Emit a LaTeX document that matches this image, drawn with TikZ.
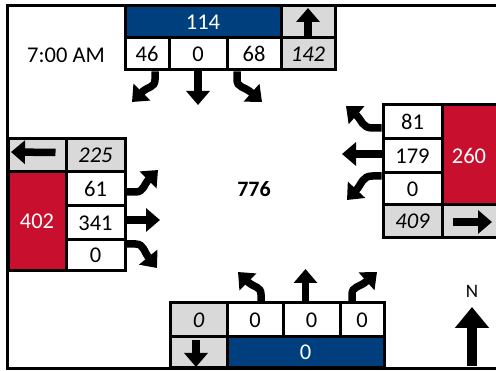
\documentclass[tikz,border=0pt]{standalone}
\usepackage{fontspec}
\setmainfont{Carlito}
\usetikzlibrary{arrows.meta}
\definecolor{nblue}{RGB}{0,63,125}
\definecolor{sred}{RGB}{200,16,46}
\definecolor{lgray}{RGB}{217,217,217}
\begin{document}
\begin{tikzpicture}[x=1pt,y=-1pt,
  cell/.style={draw=black, line width=3pt, inner sep=0pt, fill=white,
    font=\fontsize{22.5}{22.5}\selectfont},
  bluecell/.style={cell, fill=nblue, text=white},
  redcell/.style={cell, fill=sred, text=white},
  graycell/.style={cell, fill=lgray, font=\fontsize{22.5}{22.5}\selectfont\itshape},
  fat/.style={line width=7.5pt, -{Triangle[length=14pt,width=23pt]}},
  compass/.style={line width=9.5pt, -{Triangle[length=21pt,width=33pt]}},
  lbl/.style={inner sep=0pt, font=\fontsize{22.5}{22.5}\selectfont}]
\useasboundingbox (0,0) rectangle (496,371);
\clip (0,0) rectangle (496,371);
\fill[white] (0,0) rectangle (496,371);
% frame
\draw[line width=3.5pt] (7.5,5.5) rectangle (520,368.5);
% north block
\node[bluecell, minimum width=156pt, minimum height=32pt] (n114) at (203,22) {114};
\node[graycell, minimum width=54pt, minimum height=32pt] (nup) at (308,22) {};
\node[cell, minimum width=44pt, minimum height=32pt] (n46) at (147,54) {46};
\node[cell, minimum width=58pt, minimum height=32pt] (n0) at (198,54) {0};
\node[cell, minimum width=54pt, minimum height=32pt] (n68) at (254,54) {68};
\node[graycell, minimum width=54pt, minimum height=32pt] (n142) at (308,54) {142};
\node[lbl] (time) at (66,55) {7:00 AM};
% west block
\node[graycell, minimum width=58pt, minimum height=33pt] (wleft) at (37,155.5) {};
\node[graycell, minimum width=59pt, minimum height=33pt] (w225) at (95.5,155.5) {225};
\node[redcell, minimum width=58pt, minimum height=99pt] (w402) at (37,221.5) {402};
\node[cell, minimum width=59pt, minimum height=34pt] (w61) at (95.5,189) {61};
\node[cell, minimum width=59pt, minimum height=34pt] (w341) at (95.5,223) {341};
\node[cell, minimum width=59pt, minimum height=31pt] (w0) at (95.5,255.5) {0};
% east block
\node[cell, minimum width=59pt, minimum height=34pt] (e81) at (412.5,122) {81};
\node[cell, minimum width=59pt, minimum height=34pt] (e179) at (412.5,156) {179};
\node[cell, minimum width=59pt, minimum height=32pt] (e0) at (412.5,189) {0};
\node[redcell, minimum width=60pt, minimum height=100pt] (e260) at (472,155) {};
\node[lbl, text=white] (e260t) at (469,156) {260};
\node[graycell, minimum width=59pt, minimum height=33pt] (e409) at (412.5,221.5) {409};
\node[graycell, minimum width=60pt, minimum height=33pt] (eright) at (472,221.5) {};
% south block
\node[graycell, minimum width=57pt, minimum height=34pt] (s0g) at (198.5,320) {0};
\node[cell, minimum width=56pt, minimum height=34pt] (sl) at (255,320) {0};
\node[cell, minimum width=57pt, minimum height=34pt] (st) at (311.5,320) {0};
\node[cell, minimum width=44pt, minimum height=34pt] (sr) at (362,320) {0};
\node[graycell, minimum width=57pt, minimum height=31pt] (sdown) at (198.5,352.5) {};
\node[bluecell, minimum width=157pt, minimum height=31pt] (sblue) at (305.5,352.5) {0};
% center and compass
\node[inner sep=0pt, font=\fontsize{22}{22}\selectfont\bfseries] (total) at (254,189) {776};
\node[inner sep=0pt, font=\fontsize{19}{19}\selectfont] (north) at (472,291) {N};
% coordinates for free ends
\coordinate (tn46) at (132,102);
\coordinate (tn0) at (198,105);
\coordinate (tn68) at (262,102);
\coordinate (tw61) at (158,170);
\coordinate (tw341) at (160,220);
\coordinate (tw0) at (157,268);
\coordinate (te81) at (346,106);
\coordinate (te179) at (342,154);
\coordinate (te0) at (347,200);
\coordinate (tsl) at (238,272);
\coordinate (tst) at (305.5,269);
\coordinate (tsr) at (377,272);
\coordinate (tnup) at (308,8);
\coordinate (twleft) at (11,152);
\coordinate (teright) at (492,222);
\coordinate (tsdown) at (196,367);
\coordinate (tcomp) at (472,307);
\coordinate (bcomp) at (472,366);
% north movements
\draw[fat] ([xshift=8pt]n46.south) -- ++(0,8) .. controls (155,88) and (148,86) .. (tn46);
\draw[fat] (n0.south) -- (tn0);
\draw[fat] ([xshift=-17pt]n68.south) -- ++(0,8) .. controls (237,88) and (244,86) .. (tn68);
% west movements
\draw[fat] ([yshift=-3pt]w61.east) -- ++(9,0) .. controls (144,192) and (144,184) .. (tw61);
\draw[fat] ([yshift=3pt]w341.east) -- (tw341);
\draw[fat] ([yshift=11.5pt]w0.east) -- ++(9,0) .. controls (144,244) and (144,252) .. (tw0);
% east movements
\draw[fat] ([yshift=-6pt]e81.west) -- ++(-9,0) .. controls (362,128) and (362,120) .. (te81);
\draw[fat] ([yshift=2pt]e179.west) -- (te179);
\draw[fat] ([yshift=13pt]e0.west) -- ++(-9,0) .. controls (362,176) and (362,184) .. (te0);
% south movements
\draw[fat] ([xshift=6pt]sl.north) -- ++(0,-7) .. controls (261,286) and (254,288) .. (tsl);
\draw[fat] ([xshift=-6pt]st.north) -- (tst);
\draw[fat] ([xshift=-10pt]sr.north) -- ++(0,-7) .. controls (352,286) and (359,288) .. (tsr);
% direction arrows in grey cells
\draw[fat] ([yshift=1.5pt]nup.south) -- (tnup);
\draw[fat] ([xshift=-12pt,yshift=3pt]wleft.east) -- (twleft);
\draw[fat] ([xshift=9pt]e409.east |- teright) -- (teright);
\draw[fat] ([xshift=-2.5pt,yshift=-1.5pt]s0g.south) -- (tsdown);
\draw[compass] (bcomp) -- (tcomp);
\end{tikzpicture}
\end{document}
